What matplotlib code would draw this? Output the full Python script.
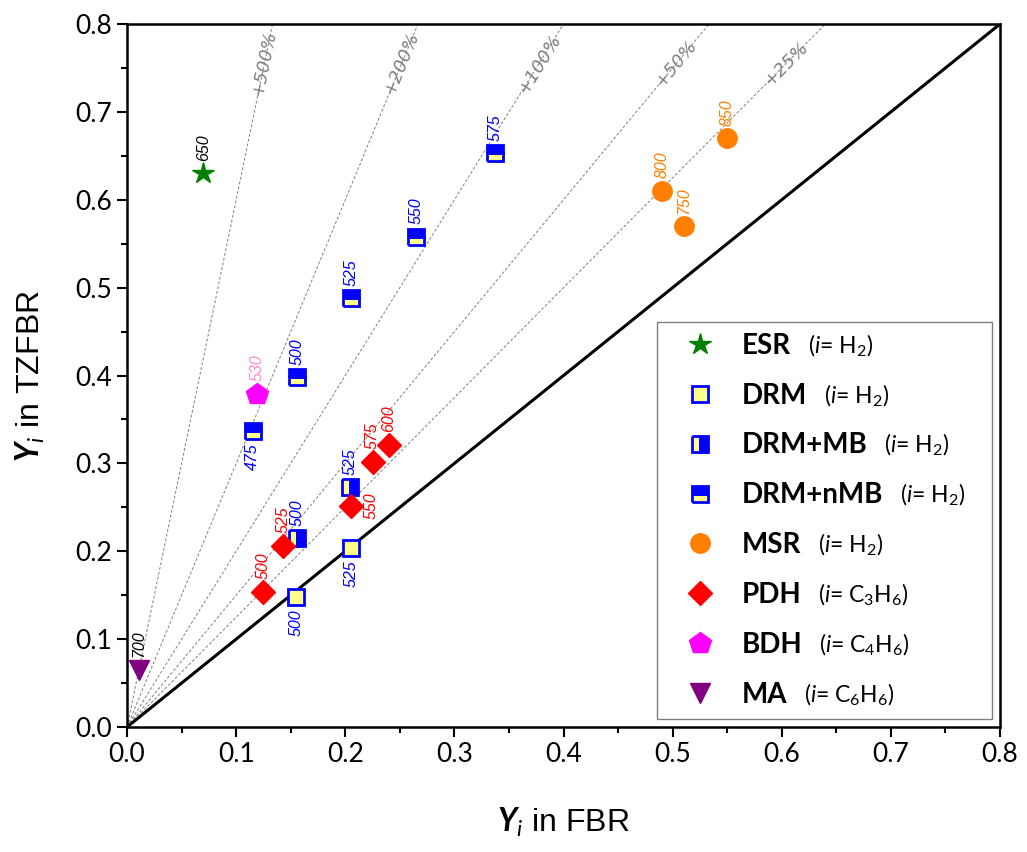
# Parity plot: yield in TZFBR vs. yield in FBR
import numpy as np
import matplotlib.pyplot as plt
from matplotlib.lines import Line2D
from matplotlib.ticker import MultipleLocator, FormatStrFormatter

plt.rcParams['mathtext.fontset'] = 'custom'
plt.rcParams['mathtext.rm'] = 'Lato'
plt.rcParams['mathtext.it'] = 'Lato:italic'
plt.rcParams['mathtext.bf'] = 'Lato:bold'
plt.rcParams['mathtext.bfit'] = 'Lato:bold:italic'

# Daten
esr_x = [0.070]
esr_y = [0.630]
esr_T = [650]

drm_x = [0.155, 0.205]
drm_y = [0.148, 0.204]
drm_T = [500, 525]

drmmb_x = [0.156, 0.204]
drmmb_y = [0.215, 0.273]
drmmb_T = [500, 525]

drmnmb_x = [0.115, 0.156, 0.205, 0.265, 0.337]
drmnmb_y = [0.337, 0.398, 0.488, 0.558, 0.653]
drmnmb_T = [475, 500, 525, 550, 575]

msr_x = [0.490, 0.510, 0.550]
msr_y = [0.610, 0.570, 0.670]
msr_T = [800, 750, 850]

pdh_x = [0.125, 0.143, 0.205, 0.225, 0.240]
pdh_y = [0.154, 0.206, 0.252, 0.302, 0.321]
pdh_T = [500, 525, 550, 575, 600]

bdh_x = [0.119]
bdh_y = [0.379]
bdh_T = [530]

ma_x = [0.011]
ma_y = [0.065]
ma_T = [700]

pct = [25, 50, 100, 200, 500]
lim = 0.8

yellow = '#ffff88'
blue = '#0000ff'

fig = plt.figure(figsize=(10.27, 8.52), dpi=100)
ax = fig.add_axes([0.1237, 0.1467, 0.85, 0.8251])

# Hilfslinien
for p in pct:
    s = 1 + p / 100
    ax.plot([0, lim / s], [0, lim], color='#808080', lw=0.7, ls=(0, (3, 2)), zorder=1)
    yl = 0.755
    ax.text(yl / s, yl, f'+{p}%', rotation=np.degrees(np.arctan(s)),
            transform_rotates_text=True, rotation_mode='anchor',
            ha='center', va='center', fontsize=13, fontstyle='italic',
            color='#808080', zorder=2)
ax.plot([0, lim], [0, lim], 'k-', lw=2.2, zorder=2)

# Serien
ms_sq = 12
ax.plot(esr_x, esr_y, ls='none', marker='*', ms=16, color='#008000', zorder=4)
ax.plot(drm_x, drm_y, ls='none', marker='s', ms=ms_sq, mfc=yellow, mec=blue, mew=2, zorder=4)
ax.plot(drmmb_x, drmmb_y, ls='none', marker='s', ms=ms_sq, mfc=yellow, mfcalt=blue,
        mec=blue, mew=2, fillstyle='left', zorder=4)
ax.plot(drmnmb_x, drmnmb_y, ls='none', marker='s', ms=ms_sq, mfc=yellow, mfcalt=blue,
        mec=blue, mew=2, fillstyle='bottom', zorder=4)
ax.plot(msr_x, msr_y, ls='none', marker='o', ms=14, color='#ff8000', zorder=4)
ax.plot(pdh_x, pdh_y, ls='none', marker='D', ms=12, color='#ff0000', zorder=4)
ax.plot(bdh_x, bdh_y, ls='none', marker='p', ms=16, color='#ff00ff', zorder=4)
ax.plot(ma_x, ma_y, ls='none', marker='v', ms=15, color='#800080', zorder=4)


# Temperatur-Beschriftungen
def beschrifte(xs, ys, Ts, wo, farbe):
    for x, y, T, w in zip(xs, ys, Ts, wo):
        if w == 'a':
            off, ha, va = (0, 9), 'center', 'bottom'
        elif w == 'b':
            off, ha, va = (0, -9), 'center', 'top'
        else:
            off, ha, va = (9, 0), 'left', 'center'
        ax.annotate(str(T), (x, y), xytext=off, textcoords='offset points',
                    rotation=90, ha=ha, va=va, fontsize=11.5, fontstyle='italic',
                    family='Liberation Sans', color=farbe, zorder=5)


beschrifte(esr_x, esr_y, esr_T, 'a', 'black')
beschrifte(drm_x, drm_y, drm_T, 'bb', blue)
beschrifte(drmmb_x, drmmb_y, drmmb_T, 'aa', blue)
beschrifte(drmnmb_x, drmnmb_y, drmnmb_T, 'baaaa', blue)
beschrifte(msr_x, msr_y, msr_T, 'aaa', '#ff8000')
beschrifte(pdh_x, pdh_y, pdh_T, 'aaraa', '#ff0000')
beschrifte(bdh_x, bdh_y, bdh_T, 'a', '#ff88cc')
beschrifte(ma_x, ma_y, ma_T, 'a', 'black')

# Achsen
ax.set_xlim(0, lim)
ax.set_ylim(0, lim)
ax.xaxis.set_major_locator(MultipleLocator(0.1))
ax.yaxis.set_major_locator(MultipleLocator(0.1))
ax.xaxis.set_minor_locator(MultipleLocator(0.05))
ax.yaxis.set_minor_locator(MultipleLocator(0.05))
ax.xaxis.set_major_formatter(FormatStrFormatter('%.1f'))
ax.yaxis.set_major_formatter(FormatStrFormatter('%.1f'))
ax.tick_params(which='both', direction='out', width=1.5, top=False, right=False)
ax.tick_params(which='major', length=7, labelsize=19, pad=4)
ax.tick_params(which='minor', length=4.5)
for lab in ax.get_xticklabels() + ax.get_yticklabels():
    lab.set_family('Lato')
for sp in ax.spines.values():
    sp.set_linewidth(1.8)

ax.set_xlabel(r'$\mathbfit{Y}_{\mathit{i}}$ in FBR', fontsize=23, family='Liberation Sans', labelpad=28)
ax.set_ylabel(r'$\mathbfit{Y}_{\mathit{i}}$ in TZFBR', fontsize=23, family='Liberation Sans', labelpad=20)

# Legende
namen = ['ESR', 'DRM', 'DRM+MB', 'DRM+nMB', 'MSR', 'PDH', 'BDH', 'MA']
zusatz = [r'($\mathit{i}$= H$_2$)'] * 5 + [r'($\mathit{i}$= C$_3$H$_6$)',
                                           r'($\mathit{i}$= C$_4$H$_6$)',
                                           r'($\mathit{i}$= C$_6$H$_6$)']
handles = [
    Line2D([], [], ls='none', marker='*', ms=16, color='#008000'),
    Line2D([], [], ls='none', marker='s', ms=11, mfc=yellow, mec=blue, mew=2),
    Line2D([], [], ls='none', marker='s', ms=11, mfc=yellow, mfcalt=blue, mec=blue, mew=2, fillstyle='left'),
    Line2D([], [], ls='none', marker='s', ms=11, mfc=yellow, mfcalt=blue, mec=blue, mew=2, fillstyle='bottom'),
    Line2D([], [], ls='none', marker='o', ms=14, color='#ff8000'),
    Line2D([], [], ls='none', marker='D', ms=12, color='#ff0000'),
    Line2D([], [], ls='none', marker='p', ms=16, color='#ff00ff'),
    Line2D([], [], ls='none', marker='v', ms=15, color='#800080'),
]
leg = ax.legend(handles, namen, loc='lower left', bbox_to_anchor=(0.607, 0.0114, 0.384, 0.566),
                mode='expand', prop={'family': 'Lato', 'weight': 'bold', 'size': 20},
                frameon=True, fancybox=False, edgecolor='#808080', framealpha=1,
                labelspacing=0.86, handlelength=2.3, handletextpad=0.36, borderpad=0.4,
                borderaxespad=0)
leg.get_frame().set_linewidth(1.0)
for t, z in zip(leg.get_texts(), zusatz):
    ax.annotate(z, xy=(1, 0), xycoords=t, xytext=(12, 0), textcoords='offset points',
                ha='left', va='bottom', fontsize=16.5, family='Lato', zorder=10)

plt.savefig('out.png', dpi=100)
